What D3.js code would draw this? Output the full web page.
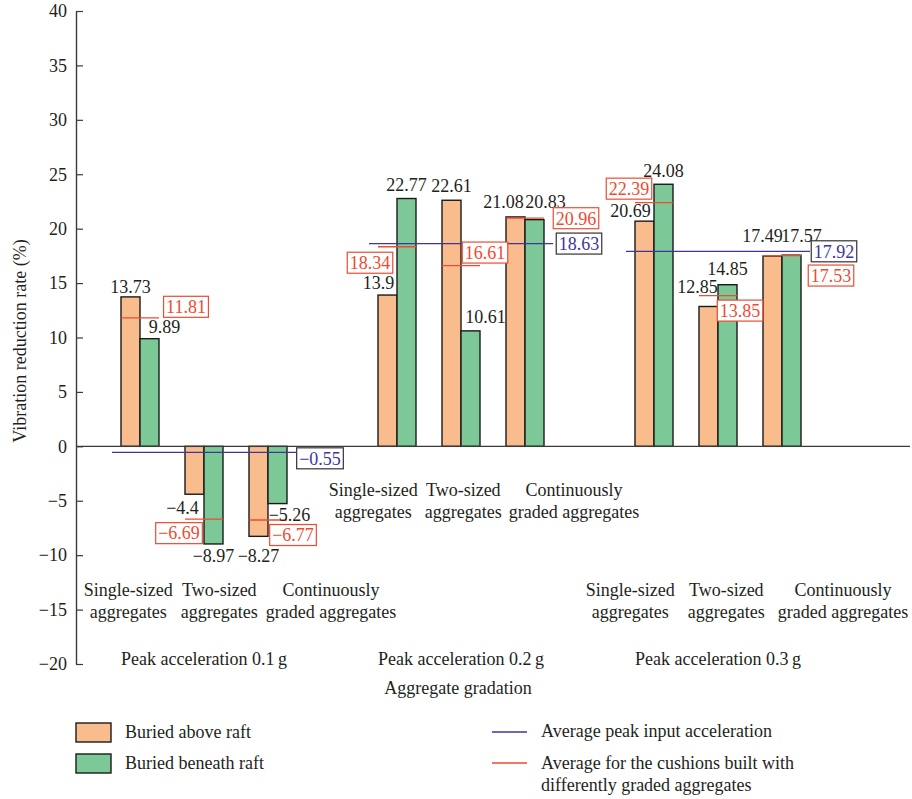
<!DOCTYPE html>
<html>
<head>
<meta charset="utf-8">
<script src="https://cdn.jsdelivr.net/npm/d3@7"></script>
<style>
  body { margin: 0; background: #fff; }
  text { font-family: "Liberation Serif", "DejaVu Serif", serif; font-size: 18px; fill: #231f20; }
</style>
</head>
<body>
<svg id="chart" width="912" height="799"></svg>
<script>
// data
var groups = ["Peak acceleration 0.1\u2009g", "Peak acceleration 0.2\u2009g", "Peak acceleration 0.3\u2009g"];
var categories = ["Single-sized aggregates", "Two-sized aggregates", "Continuously graded aggregates"];
var categoryLines = [["Single-sized", "aggregates"], ["Two-sized", "aggregates"], ["Continuously", "graded aggregates"]];
var series = ["Buried above raft", "Buried beneath raft"];
var aboveRaft = [13.73, -4.4, -8.27, 13.9, 22.61, 21.08, 20.69, 12.85, 17.49];
var beneathRaft = [9.89, -8.97, -5.26, 22.77, 10.61, 20.83, 24.08, 14.85, 17.57];
var gradationAvg = [11.81, -6.69, -6.77, 18.34, 16.61, 20.96, 22.39, 13.85, 17.53];
var peakAvg = [-0.55, 18.63, 17.92];
var yTicks = [-20, -15, -10, -5, 0, 5, 10, 15, 20, 25, 30, 35, 40];

// hand nudges for labels so they don't collide (px)
var aboveNudge = [[0, 10], [-12, 13], [0, 19], [-9, 12], [0, 15], [-12, 15], [-14, 10], [-11, 20], [-10, 20]];
var beneathNudge = [[15, 12], [0, 12], [12, 11], [0, 14], [15, 14], [11, 18], [0, 14], [0, 16], [10, 19]];
var gradNudge = [[46, -11], [-25, 14], [25, 15], [-27, 16], [24, -13], [51, 0], [-25, -14], [22, 15], [49, 20]];
var peakNudge = [[116, 6], [118, 0], [116, 0]];
var catLabelShift = [36, 23, 29];
var catLabelGap = [8, 7, 13];

var colors = { above: "#f9bd8d", beneath: "#7cc897", red: "#ee4b31", blue: "#3d35a0", ink: "#231f20" };

var svg = d3.select("#chart");

var y = d3.scaleLinear().domain([-20, 40]).range([664, 11]);
var xg = d3.scaleBand().domain(groups).range([75.5, 846.5]);
var xc = d3.scaleBand().domain(categories).range([-96, 96]);
var xs = d3.scaleBand().domain(series).range([-19, 19]);

function gx(g) { return xg(g) + xg.bandwidth() / 2 }
function cx(g, c) { return gx(g) + xc(c) + xc.bandwidth() / 2 }
function fmt(v) { return String(v).replace("-", "\u2212") }

var rows = [];
groups.forEach(function(g, gi) {
  categories.forEach(function(c, ci) {
    var i = gi * 3 + ci;
    rows.push({ g: g, c: c, i: i, above: aboveRaft[i], beneath: beneathRaft[i], avg: gradationAvg[i] });
  });
});

var bars = [];
rows.forEach(function(r) {
  bars.push({ r: r, s: series[0], v: r.above, fill: colors.above, nudge: aboveNudge[r.i] });
  bars.push({ r: r, s: series[1], v: r.beneath, fill: colors.beneath, nudge: beneathNudge[r.i] });
});

// bars
svg.append("g").selectAll("rect")
  .data(bars)
  .enter()
  .append("rect")
    .attr("x", function(d) { return cx(d.r.g, d.r.c) + xs(d.s) })
    .attr("width", xs.bandwidth())
    .attr("y", function(d) { return y(Math.max(d.v, 0)) })
    .attr("height", function(d) { return Math.abs(y(d.v) - y(0)) })
    .attr("fill", function(d) { return d.fill })
    .attr("stroke", "#1a1a1a")
    .attr("stroke-width", 1.4);

// y axis, ticks pointing inwards
var yAxis = svg.append("g")
  .attr("transform", "translate(76,0)")
  .call(d3.axisLeft(y).tickValues(yTicks).tickSizeInner(-7).tickSizeOuter(0).tickPadding(9));
yAxis.attr("font-family", null).attr("font-size", null);
yAxis.select(".domain").attr("stroke", "#3a3a3a").attr("stroke-width", 1.4);
yAxis.selectAll(".tick line").attr("stroke", "#3a3a3a").attr("stroke-width", 1.2);
yAxis.selectAll(".tick text").style("fill", colors.ink);

// zero line
svg.append("line")
  .attr("x1", 76).attr("x2", 910)
  .attr("y1", y(0)).attr("y2", y(0))
  .attr("stroke", "#3a3a3a").attr("stroke-width", 1.4);

// red average lines per gradation
svg.append("g").selectAll("line")
  .data(rows)
  .enter()
  .append("line")
    .attr("x1", function(d) { return cx(d.g, d.c) + xs(series[0]) })
    .attr("x2", function(d) { return cx(d.g, d.c) + xs(series[1]) + xs.bandwidth() })
    .attr("y1", function(d) { return y(d.avg) })
    .attr("y2", function(d) { return y(d.avg) })
    .attr("stroke", colors.red).attr("stroke-width", 1.3);

// blue average lines per peak acceleration
svg.append("g").selectAll("line")
  .data(groups)
  .enter()
  .append("line")
    .attr("x1", function(d) { return gx(d) - 92 })
    .attr("x2", function(d) { return gx(d) + 92 })
    .attr("y1", function(d, i) { return y(peakAvg[i]) })
    .attr("y2", function(d, i) { return y(peakAvg[i]) })
    .attr("stroke", colors.blue).attr("stroke-width", 1.3);

// bar value labels
svg.append("g").selectAll("text")
  .data(bars)
  .enter()
  .append("text")
    .attr("text-anchor", "middle")
    .attr("dy", "0.35em")
    .attr("x", function(d) { return cx(d.r.g, d.r.c) + xs(d.s) + xs.bandwidth() / 2 + d.nudge[0] })
    .attr("y", function(d) { return d.v >= 0 ? y(d.v) - d.nudge[1] : y(d.v) + d.nudge[1] })
    .text(function(d) { return fmt(d.v) });

// boxed labels
function boxLabel(x, yy, txt, color, border) {
  var g = svg.append("g");
  var t = g.append("text")
    .attr("x", x).attr("y", yy).attr("dy", "0.35em")
    .attr("text-anchor", "middle")
    .style("fill", color)
    .text(txt);
  var b = t.node().getBBox();
  g.insert("rect", "text")
    .attr("x", b.x - 2.5).attr("y", yy - 10.5)
    .attr("width", b.width + 5).attr("height", 21)
    .attr("fill", "#fff")
    .attr("stroke", border).attr("stroke-width", 1.2);
}
rows.forEach(function(r) {
  boxLabel(cx(r.g, r.c) + gradNudge[r.i][0], y(r.avg) + gradNudge[r.i][1], fmt(r.avg), colors.red, colors.red);
});
groups.forEach(function(g, i) {
  boxLabel(gx(g) + peakNudge[i][0], y(peakAvg[i]) + peakNudge[i][1], fmt(peakAvg[i]), colors.blue, "#333");
});

// category labels, laid out side by side under each group
groups.forEach(function(g, gi) {
  var rowY = gi === 1 ? y(-4) : y(-13.2);
  var lab = svg.append("g");
  var items = categoryLines.map(function(lines) {
    var t = lab.append("text").attr("text-anchor", "middle");
    lines.forEach(function(l, li) {
      t.append("tspan").attr("x", 0).attr("y", rowY + li * 22).attr("dy", "0.35em").text(l);
    });
    return { t: t, w: t.node().getBBox().width };
  });
  var gap = catLabelGap[gi];
  var total = d3.sum(items, function(d) { return d.w }) + gap * (items.length - 1);
  var left = gx(g) + catLabelShift[gi] - total / 2;
  items.forEach(function(it) {
    it.t.selectAll("tspan").attr("x", left + it.w / 2);
    left += it.w + gap;
  });
});

// group labels
svg.append("g").selectAll("text")
  .data(groups)
  .enter()
  .append("text")
    .attr("text-anchor", "middle")
    .attr("x", function(d) { return gx(d) })
    .attr("y", 659).attr("dy", "0.35em")
    .text(function(d) { return d });

svg.append("text")
  .attr("text-anchor", "middle")
  .attr("x", gx(groups[1]) - 3).attr("y", 688).attr("dy", "0.35em")
  .text("Aggregate gradation");

svg.append("text")
  .attr("text-anchor", "middle")
  .attr("transform", "translate(20," + 341 + ") rotate(-90)")
  .attr("dy", "0.35em")
  .text("Vibration reduction rate (%)");

// legend
var legend = svg.append("g");
[colors.above, colors.beneath].forEach(function(c, i) {
  legend.append("rect")
    .attr("x", 76).attr("y", 723 + i * 31)
    .attr("width", 35).attr("height", 19)
    .attr("fill", c).attr("stroke", "#1a1a1a").attr("stroke-width", 1.4);
  legend.append("text")
    .attr("x", 125).attr("y", 732 + i * 31).attr("dy", "0.35em")
    .text(series[i]);
});
[colors.blue, colors.red].forEach(function(c, i) {
  legend.append("line")
    .attr("x1", 492).attr("x2", 527)
    .attr("y1", 732 + i * 31).attr("y2", 732 + i * 31)
    .attr("stroke", c).attr("stroke-width", 1.3);
});
legend.append("text").attr("x", 541).attr("y", 731).attr("dy", "0.35em")
  .text("Average peak input acceleration");
legend.append("text").attr("x", 541).attr("y", 763).attr("dy", "0.35em")
  .text("Average for the cushions built with");
legend.append("text").attr("x", 541).attr("y", 785).attr("dy", "0.35em")
  .text("differently graded aggregates");
</script>
</body>
</html>
